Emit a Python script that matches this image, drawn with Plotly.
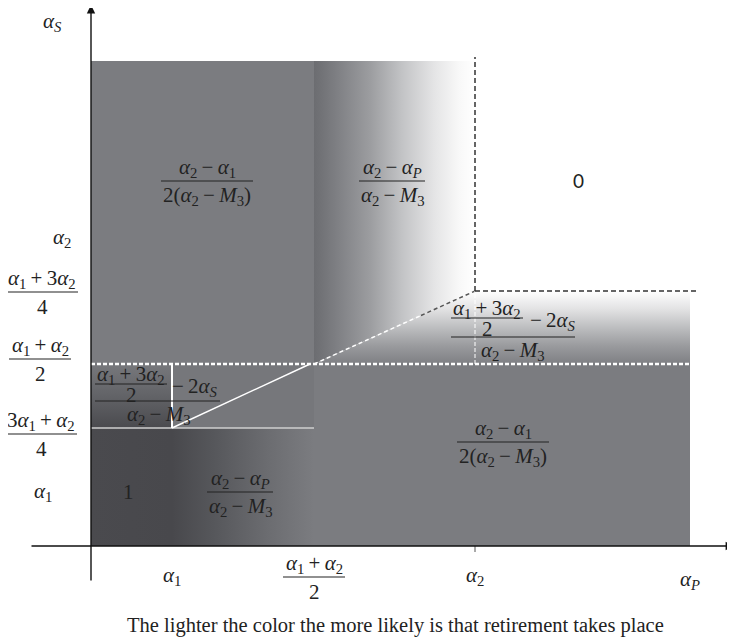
import plotly.graph_objects as go

# ---------------- data: schematic region boundaries ----------------
# x: 0, α1, (α1+α2)/2, α2, right end of αP range
x_breaks = [0, 81, 223, 384, 599]
# y: 0, (3α1+α2)/4, (α1+α2)/2, (α1+3α2)/4, top of αS range
y_breaks = [0, 118, 182, 255, 485]

GRAY = "#7b7c80"
DARK = "#4a4a4e"
TXT = "#222222"
MATH = "Liberation Serif"
FS = 21

A1 = "<i>α</i><sub>1</sub>"
A2 = "<i>α</i><sub>2</sub>"
AS = "<i>α</i><sub><i>S</i></sub>"
AP = "<i>α</i><sub><i>P</i></sub>"
M3 = "<i>M</i><sub>3</sub>"
MN = "\u2009−\u2009"
PL = "\u2009+\u2009"

# axis tick labels
x_tick_labels = [A1, (A1 + PL + A2, "2"), A2, AP]
y_tick_labels = [A1, ("3" + A1 + PL + A2, "4"), (A1 + PL + A2, "2"),
                 (A1 + PL + "3" + A2, "4"), A2]

# probabilities in each region
p_left_top = (A2 + MN + A1, "2(" + A2 + MN + M3 + ")")
p_mid = (A2 + MN + AP, A2 + MN + M3)
p_right_low = (A2 + MN + A1, "2(" + A2 + MN + M3 + ")")
p_one = "1"
p_zero = "0"
p_strip_inner = (A1 + PL + "3" + A2, "2")
p_strip_tail = "−\u2009" + "2" + AS
p_strip_den = A2 + MN + M3

caption = "The lighter the color the more likely is that retirement takes place"

# page body has an 8px margin: figure occupies page pixels 8..735 / 8..638
OFF = 8


def X(px):
    return px - 91


def Y(py):
    return 546 - py


x0, xa1, xm, xa2, xe = x_breaks
y0, y3, ym, yq, yt = y_breaks

fig = go.Figure()


def poly(xs, ys, color=None, grad=None):
    kw = dict(x=xs + [xs[0]], y=ys + [ys[0]], mode="lines", fill="toself",
              line=dict(width=0), hoverinfo="skip", showlegend=False)
    if grad is not None:
        kw["fillgradient"] = grad
    else:
        kw["fillcolor"] = color
    fig.add_trace(go.Scatter(**kw))


# upper-left flat region
poly([x0, xm, xm, x0], [ym, ym, yt, yt], GRAY)
# upper-middle, horizontal fade to white
poly([xm, xa2, xa2, xm], [ym, yq, yt, yt],
     grad=dict(type="horizontal", start=xm, stop=xa2,
               colorscale=[[0, "#6c6d71"], [0.05, "#727377"], [0.14, "#7e7f83"],
                           [0.35, "#9c9da0"], [0.55, "#c3c4c6"], [0.75, "#e5e5e6"],
                           [0.9, "#f8f8f8"], [1, "#ffffff"]]))
# right strip, vertical fade to white
poly([xm, xe, xe, xa2], [ym, ym, yq, yq],
     grad=dict(type="vertical", start=ym, stop=yq,
               colorscale=[[0, "#7e7f83"], [0.25, "#9a9b9e"], [0.5, "#bdbec0"],
                           [0.75, "#e2e2e3"], [1, "#ffffff"]]))
# lower flat region
poly([x0, xe, xe, x0], [y0, y0, ym, ym], GRAY)
# bottom-left dark region fading to gray
poly([x0, xm, xm, x0], [y0, y0, y3, y3],
     grad=dict(type="horizontal", start=x0, stop=xm,
               colorscale=[[0, DARK], [xa1 / xm, "#48484c"], [0.55, "#56575b"],
                           [0.8, "#6c6d71"], [1, GRAY]]))
# small box left of α1, vertical fade dark -> gray
poly([x0, xa1, xa1, x0], [y3, y3, ym, ym],
     grad=dict(type="vertical", start=y3, stop=ym,
               colorscale=[[0, "#4a4a4e"], [0.5, "#626367"], [1, "#77787c"]]))
# small box right of α1
poly([xa1, xm, xm, xa1], [y3, y3, ym, ym], "#76777b")


def seg(xa, ya, xb, yb, color, width, dash=None):
    line = dict(color=color, width=width)
    if dash:
        line["dash"] = dash
    fig.add_shape(type="line", x0=xa, y0=ya, x1=xb, y1=yb, line=line, layer="above")


def on_diag(x):
    return ym + (yq - ym) * (x - xm) / (xa2 - xm)


# lines inside the regions
seg(x0, y3, xm, y3, "#cfcfcf", 1.5)
seg(xa1, y3, xa1, ym, "#ffffff", 2)
seg(xa1, y3, xm - 4, ym, "#ffffff", 1.5)
seg(x0, ym, xe + 5, ym, "#ffffff", 2.5, "4px,2px")
seg(xm, ym, 330, on_diag(330), "#ffffff", 1.5, "4px,3px")
seg(330, on_diag(330), xa2, yq, "#555555", 1.5, "4px,3px")
seg(xa2, ym, xa2, yq, "#ffffff", 1, "4px,2px")
seg(xa2, yq, xa2, yt + 4, "#333333", 1.5, "5px,3px")
seg(xa2, yq, xe + 7, yq, "#333333", 1.5, "5px,3px")
seg(xa2, y0, xa2, -6, "#555555", 1)

# axes with arrows
fig.add_annotation(x=0, y=Y(5), ax=0, ay=Y(582), xref="x", yref="y", axref="x", ayref="y",
                   text="", showarrow=True, arrowhead=2, arrowsize=1.2, arrowwidth=1.4,
                   arrowcolor="#111111", standoff=0)
fig.add_annotation(x=X(734), y=0, ax=X(30), ay=0, xref="x", yref="y", axref="x", ayref="y",
                   text="", showarrow=True, arrowhead=2, arrowsize=1.2, arrowwidth=1.4,
                   arrowcolor="#111111", standoff=0)


def txt(x, y, s, size=FS, family=MATH, color=TXT):
    fig.add_annotation(x=x, y=y, text=s, showarrow=False, xref="x", yref="y",
                       xanchor="center", yanchor="middle",
                       font=dict(family=family, size=size, color=color))


def frac(cx, ybar, num, den, halfw, size=FS, gap=13, color=TXT):
    txt(cx, ybar + gap, num, size, color=color)
    txt(cx, ybar - gap - 2, den, size, color=color)
    fig.add_shape(type="line", x0=cx - halfw, x1=cx + halfw, y0=ybar, y1=ybar,
                  line=dict(color=color, width=1.2), layer="above")


# y-axis labels
txt(X(52), Y(22), AS)
txt(X(62), Y(238), y_tick_labels[4])
frac(X(42), Y(292), *y_tick_labels[3], 36)
frac(X(40), Y(359), *y_tick_labels[2], 31)
frac(X(41), Y(434), *y_tick_labels[1], 36)
txt(X(43), Y(492), y_tick_labels[0])

# x-axis labels
txt(X(172), Y(576), x_tick_labels[0])
frac(X(314), Y(577), *x_tick_labels[1], 31)
txt(X(475), Y(576), x_tick_labels[2])
txt(X(690), Y(580), x_tick_labels[3])

# region labels
frac(X(207), Y(181), *p_left_top, 46)
frac(X(392), Y(181), *p_mid, 33)
frac(X(503), Y(442), *p_right_low, 46)
frac(X(240), Y(492), *p_mid, 33)
txt(X(128), Y(492), p_one)
txt(X(578), Y(180), p_zero, size=19, family="Lato")

# strip labels  ((α1+3α2)/2 − 2αS) / (α2 − M3)
for cx_in, bar_in, bar_main, tail_x, den_x, l_main, r_main in [
        (X(487), Y(318), Y(337), X(553), X(512), X(451), X(575)),
        (X(131), Y(384), Y(401), X(195), X(158), X(95), X(220))]:
    frac(cx_in, bar_in, *p_strip_inner, 36, gap=9)
    txt(tail_x, bar_in - 3, p_strip_tail)
    fig.add_shape(type="line", x0=l_main, x1=r_main, y0=bar_main, y1=bar_main,
                  line=dict(color=TXT, width=1.2), layer="above")
    txt(den_x, bar_main - 14, p_strip_den)

# caption
txt(X(395), Y(625), caption, size=20.5, family="Liberation Serif", color="#222222")

fig.update_layout(
    width=735 - OFF, height=638 - OFF, margin=dict(l=0, r=0, t=0, b=0),
    paper_bgcolor="white", plot_bgcolor="white", showlegend=False,
    xaxis=dict(range=[X(OFF), X(735)], visible=False, fixedrange=True),
    yaxis=dict(range=[Y(638), Y(OFF)], visible=False, fixedrange=True),
)

fig.write_html("out.html")
